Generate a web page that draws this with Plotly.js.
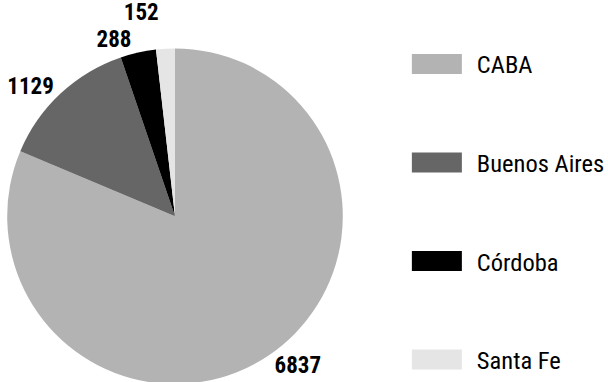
<!DOCTYPE html>
<html><head><meta charset="utf-8">
<script src="https://cdn.plot.ly/plotly-3.0.1.min.js"></script>
<style>html,body{margin:0;padding:0;overflow:hidden;background:#fff}#chart{width:608px;height:384px}
.textline{display:none}</style>
</head><body><div id="chart"></div>
<script>
const categories = ['CABA', 'Buenos Aires', 'Córdoba', 'Santa Fe'];
const values = [6837, 1129, 288, 152];
const colors = ['#b3b3b3', '#666666', '#000000', '#e5e5e5'];
const FONT = '"Roboto Condensed", Roboto, sans-serif';

// legend entries padded with blank lines to space items out
const legendLabels = categories.map((c, i) => i < categories.length - 1 ? c + '<br> <br> ' : c);

const data = [{
  type: 'pie',
  labels: legendLabels,
  values: values,
  sort: false,
  direction: 'clockwise',
  rotation: 0,
  domain: {x: [0, 1], y: [0, 0.874]},
  marker: {colors: colors, line: {width: 0}},
  textinfo: 'value',
  textposition: 'outside',
  outsidetextfont: {family: FONT, size: 23, color: '#000', weight: 'bold'},
  hoverinfo: 'none',
  showlegend: true
}];

const layout = {
  width: 608, height: 384,
  margin: {l: 6, r: 264, t: 0, b: 0, autoexpand: false},
  paper_bgcolor: '#fff',
  font: {family: FONT, size: 25, color: '#000'},
  showlegend: true,
  legend: {
    x: 1.186, xanchor: 'left', y: 0.892, yanchor: 'top',
    valign: 'top', itemwidth: 60,
    font: {family: FONT, size: 24.5, color: '#000'},
    bgcolor: 'rgba(0,0,0,0)', borderwidth: 0
  }
};

Plotly.newPlot('chart', data, layout, {staticPlot: true}).then(gd => {
  gd.querySelectorAll('.legend path.legendpie').forEach(p => {
    p.setAttribute('d', 'M-25,-10H25V10H-25Z');
    p.setAttribute('transform', 'translate(30,0)');
  });
});
</script></body></html>
